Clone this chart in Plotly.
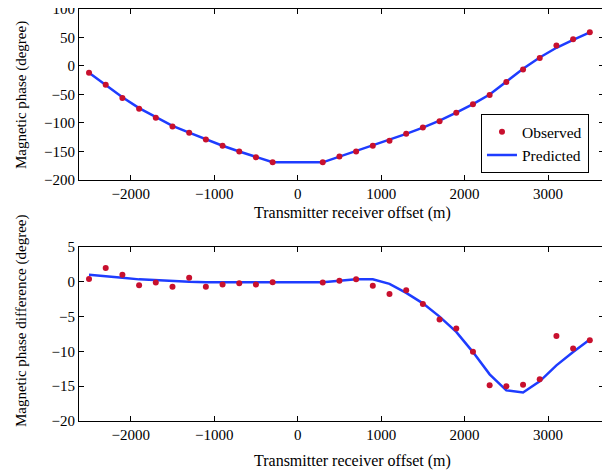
import plotly.graph_objects as go
from plotly.subplots import make_subplots

# Offsets (m)
offsets = [-2500, -2300, -2100, -1900, -1700, -1500, -1300, -1100, -900, -700, -500, -300,
           300, 500, 700, 900, 1100, 1300, 1500, 1700, 1900, 2100, 2300, 2500, 2700,
           2900, 3100, 3300, 3500]

# Magnetic phase (degree)
phase_obs = [-12, -33, -56, -75, -91, -106, -117, -129, -140, -150, -160, -169,
             -169, -159, -150, -140, -131, -119, -108, -97, -82, -67, -51, -28, -6,
             14, 36, 47, 59]
phase_pred = [-12, -33, -55, -74, -90, -105, -117, -129, -140, -150, -160, -169,
              -169, -159, -150, -140, -130, -119, -108, -96, -82, -67, -50, -28, -5,
              15, 32, 46, 59]

# Magnetic phase difference (degree)
diff_obs = [0.4, 2.0, 1.0, -0.5, -0.1, -0.7, 0.6, -0.7, -0.4, -0.2, -0.4, -0.05,
            -0.1, 0.15, 0.35, -0.55, -1.75, -1.2, -3.2, -5.4, -6.7, -10.05, -14.85,
            -15.0, -14.8, -14.0, -7.8, -9.6, -8.4]
diff_pred = [1.0, 0.85, 0.6, 0.35, 0.2, 0.05, 0.0, -0.05, -0.05, -0.05, -0.05, -0.05,
             -0.05, 0.15, 0.35, 0.35, -0.3, -1.6, -3.1, -5.0, -7.2, -10.1, -13.3,
             -15.6, -15.9, -14.3, -12.0, -10.1, -8.3]

red = "#c8102e"
blue = "#1e3cff"
serif = "Liberation Serif, Times New Roman, serif"
tickfont = dict(family=serif, size=15, color="black")
xtitlefont = dict(family=serif, size=16, color="black")
ytitlefont = dict(family=serif, size=15, color="black")
legendfont = dict(family=serif, size=15.5, color="black")

fig = make_subplots(rows=2, cols=1)

fig.add_trace(go.Scatter(x=offsets, y=phase_pred, mode="lines", name="Predicted",
                         line=dict(color=blue, width=2.5)), row=1, col=1)
fig.add_trace(go.Scatter(x=offsets, y=phase_obs, mode="markers", name="Observed",
                         marker=dict(color=red, size=6)), row=1, col=1)

fig.add_trace(go.Scatter(x=offsets, y=diff_pred, mode="lines", showlegend=False,
                         line=dict(color=blue, width=2.5)), row=2, col=1)
fig.add_trace(go.Scatter(x=offsets, y=diff_obs, mode="markers", showlegend=False,
                         marker=dict(color=red, size=6)), row=2, col=1)

axis_style = dict(showgrid=False, zeroline=False, showline=True, linecolor="black",
                  linewidth=1.2, mirror="ticks", ticks="inside", ticklen=5,
                  tickcolor="black", tickfont=tickfont, automargin=False,
                  ticklabeloverflow="allow")

fig.update_xaxes(range=[-2620, 3670], tickvals=[-2000, -1000, 0, 1000, 2000, 3000],
                 **axis_style)
fig.update_yaxes(range=[-200, 100], dtick=50, domain=[0.585, 1], row=1, col=1, **axis_style)
fig.update_yaxes(range=[-20, 5], dtick=5, domain=[0, 0.4223], row=2, col=1, **axis_style)

# axis titles as annotations so they sit where the reference has them
titles = [
    dict(text="Transmitter receiver offset (m)", x=0.52, y=0.506, textangle=0, font=xtitlefont),
    dict(text="Transmitter receiver offset (m)", x=0.52, y=-0.098, textangle=0, font=xtitlefont),
    dict(text="Magnetic phase (degree)", x=-0.1105, y=0.791, textangle=-90, font=ytitlefont),
    dict(text="Magnetic phase difference (degree)", x=-0.1105, y=0.245, textangle=-90, font=ytitlefont),
]
for t in titles:
    fig.add_annotation(xref="paper", yref="paper", showarrow=False,
                       xanchor="center", yanchor="middle", **t)

# the page body has an 8px margin, so the figure is 8px smaller than the window
fig.update_layout(
    width=602, height=462,
    margin=dict(l=71, r=6, t=1, b=49),
    plot_bgcolor="white", paper_bgcolor="white",
    font=tickfont,
    legend=dict(x=0.971, y=0.602, xanchor="right", yanchor="bottom",
                bordercolor="black", borderwidth=1.2, bgcolor="white",
                traceorder="reversed", font=legendfont, tracegroupgap=0,
                itemwidth=30),
)

fig.write_html("out.html")
